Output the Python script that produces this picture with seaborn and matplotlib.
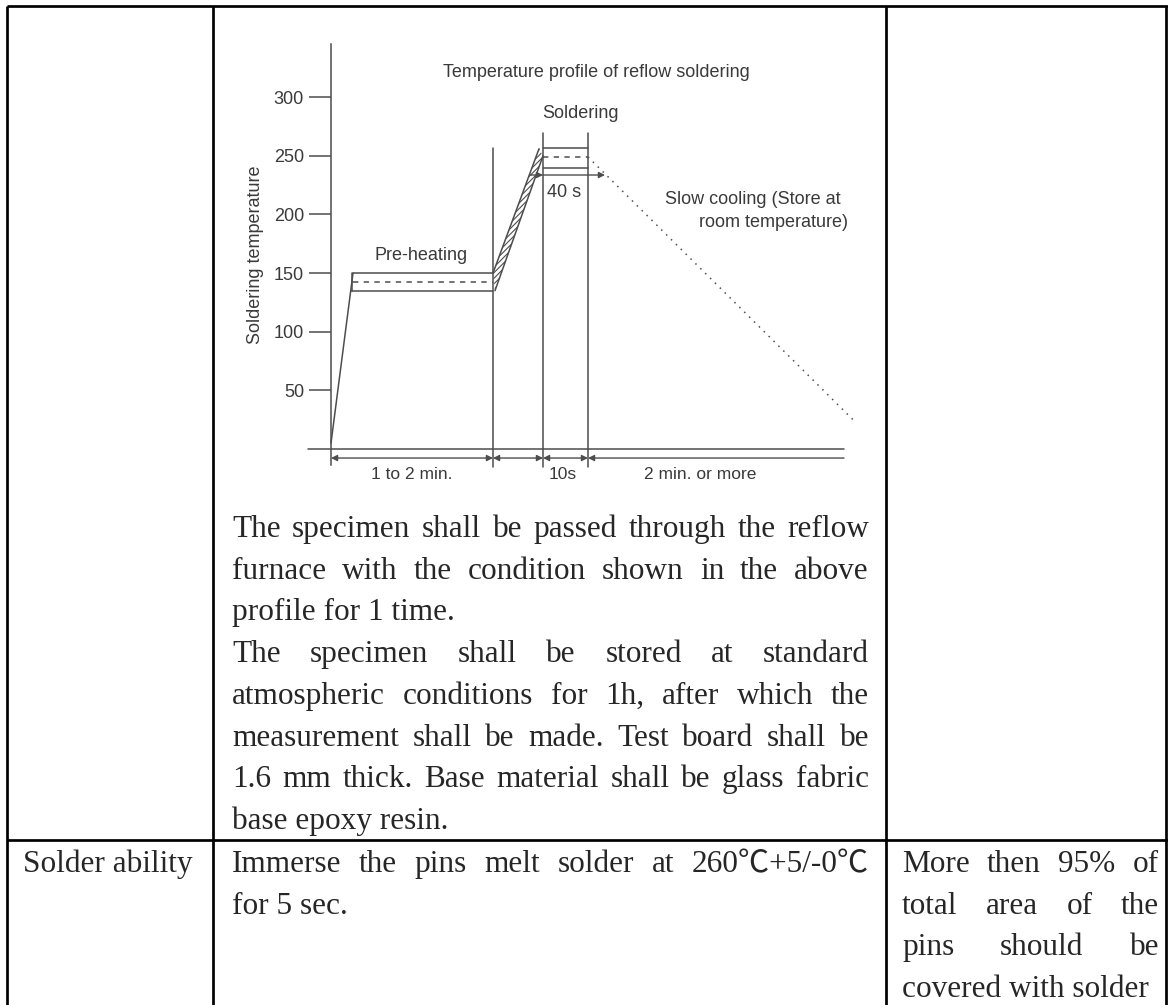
import numpy as np
import pandas as pd
import seaborn as sns
import matplotlib.pyplot as plt

# reflow profile: nominal time units (x) vs soldering temperature (deg C)
seg_names = ['ramp', 'pre_top', 'pre_bottom', 'pre_edge', 'pre_end', 'band_top', 'band_bottom',
             'sol_left', 'sol_right', 'sol_cap', 'sol_low', 'base',
             'pre_mid', 'sol_mid', 'cooling']
seg_kind = ['solid'] * 12 + ['dash', 'dash', 'dot']
seg_time = [[0, 22], [22, 162], [20, 162], [21, 21], [162, 162], [162, 208], [164, 212],
            [212, 212], [257, 257], [212, 257], [212, 257], [-23, 513],
            [22, 162], [212, 257], [257, 522]]
seg_temp = [[5, 150], [150, 150], [135, 135], [150, 135], [-15, 257], [150, 256], [135, 250],
            [-15, 269], [-15, 269], [257, 257], [240, 240], [0, 0],
            [142, 142], [249, 249], [249, 25]]

yticks = [50, 100, 150, 200, 250, 300]
phase_edges = [0, 162, 212, 257, 513]
phase_labels = ['1 to 2 min.', '', '10s', '2 min. or more']
phase_label_x = [81, 187, 232, 369]
peak_span = [199, 212, 257, 274]
dim_temp = -7.7
peak_temp = 233.6

# table text
col1_row2 = 'Solder ability'
col2_row1 = [('The specimen shall be passed through the reflow', True),
             ('furnace with the condition shown in the above', True),
             ('profile for 1 time.', False),
             ('The specimen shall be stored at standard', True),
             ('atmospheric conditions for 1h, after which the', True),
             ('measurement shall be made. Test board shall be', True),
             ('1.6 mm thick. Base material shall be glass fabric', True),
             ('base epoxy resin.', False)]
col2_row2 = [('Immerse the pins melt solder at 260\u2103+5/-0\u2103', True),
             ('for 5 sec.', False)]
col3_row2 = [('More then 95% of', True),
             ('total area of the', True),
             ('pins should be', True),
             ('covered with solder', False)]

rows = []
for name, kind, ts, vs in zip(seg_names, seg_kind, seg_time, seg_temp):
    for t, v in zip(ts, vs):
        rows.append({'seg': name, 'kind': kind, 'time': t, 'temp': v})
df = pd.DataFrame(rows)

sns.set_style('white')
plt.rcParams['font.family'] = ['Liberation Sans', 'DejaVu Sans']
plt.rcParams['hatch.linewidth'] = 0.8

fig = plt.figure(figsize=(11.68, 10.05), dpi=100)
fig.patch.set_facecolor('white')

# page / table layer in pixel coordinates
tab = fig.add_axes([0, 0, 1, 1])
tab.set_xlim(0, 1168)
tab.set_ylim(1005, 0)
tab.axis('off')
lw_tab = 1.95
tab.hlines([6], 7, 1168, color='black', lw=lw_tab)
tab.hlines([840], 7, 1168, color='black', lw=lw_tab)
tab.vlines([7, 213, 886, 1166], 6, 1005, color='black', lw=lw_tab)

serif = ['Liberation Serif', 'Noto Sans CJK SC', 'DejaVu Serif']
fs_tab = 22.5
renderer = fig.canvas.get_renderer()


def put_line(text, x0, x1, y, just):
    if not just:
        tab.text(x0, y, text, ha='left', va='baseline', family=serif, fontsize=fs_tab)
        return
    words = text.split(' ')
    arts = [tab.text(0, y, w, ha='left', va='baseline', family=serif, fontsize=fs_tab)
            for w in words]
    widths = [a.get_window_extent(renderer).width for a in arts]
    gap = (x1 - x0 - sum(widths)) / (len(words) - 1)
    x = x0
    for a, w in zip(arts, widths):
        a.set_x(x)
        x += w + gap


for i, (txt, j) in enumerate(col2_row1):
    put_line(txt, 232, 869, 537 + i * 41.7, j)
tab.text(23, 872, col1_row2, ha='left', va='baseline', family=serif, fontsize=fs_tab)
for i, (txt, j) in enumerate(col2_row2):
    put_line(txt, 232, 869, 872 + i * 41.7, j)
for i, (txt, j) in enumerate(col3_row2):
    put_line(txt, 902, 1159, 872 + i * 41.7, j)

# profile chart
ax = fig.add_axes([331 / 1168, 1 - 465 / 1005, 529 / 1168, 421 / 1005])
ax.patch.set_alpha(0)
col = '#4d4d4d'
tcol = '#3a3a3a'
sns.lineplot(data=df, x='time', y='temp', units='seg', style='kind', estimator=None,
             sort=False, legend=False, color=col, lw=1.1, ax=ax,
             dashes={'solid': '', 'dash': (3.5, 3.5), 'dot': (1, 3.5)})
for ln in ax.lines:
    ln.set_clip_on(False)

# hatched ramp band between pre-heating and peak
bt = seg_time[seg_names.index('band_top')]
bv = seg_temp[seg_names.index('band_top')]
bbt = seg_time[seg_names.index('band_bottom')]
bbv = seg_temp[seg_names.index('band_bottom')]
ax.fill(bt + bbt[::-1], bv + bbv[::-1], facecolor='none', edgecolor=col, hatch='//////',
        lw=0, clip_on=False)

ax.set_xlim(0, 529)
ax.set_ylim(-13.64, 345.3)
ax.set_xlabel('')
ax.set_ylabel('')
for s in ['top', 'right', 'bottom']:
    ax.spines[s].set_visible(False)
ax.spines['left'].set_color(col)
ax.spines['left'].set_linewidth(1.1)
ax.set_xticks([])
ax.set_yticks(yticks)
ax.tick_params(axis='y', direction='out', length=15.8, width=1.1, color=col,
               pad=3.6, labelsize=13, labelcolor=tcol, left=True)

# dimension arrows under the axis
arr = dict(color=col, lw=1.0, mutation_scale=9, shrinkA=0, shrinkB=0)
for k in range(len(phase_edges) - 1):
    style = '<|-|>' if k < len(phase_edges) - 2 else '<|-'
    ax.annotate('', xy=(phase_edges[k + 1], dim_temp), xytext=(phase_edges[k], dim_temp),
                arrowprops=dict(arrowstyle=style, **arr), annotation_clip=False)
    if phase_labels[k]:
        ax.text(phase_label_x[k], -22, phase_labels[k], ha='center', va='center',
                fontsize=12.5, color=tcol, clip_on=False)
ax.annotate('', xy=(peak_span[1], peak_temp), xytext=(peak_span[0], peak_temp),
            arrowprops=dict(arrowstyle='-|>', **arr), annotation_clip=False)
ax.annotate('', xy=(peak_span[3], peak_temp), xytext=(peak_span[1], peak_temp),
            arrowprops=dict(arrowstyle='-|>', **arr), annotation_clip=False)

ax.text(112, 321.4, 'Temperature profile of reflow soldering', ha='left', va='center',
        fontsize=13, color=tcol)
ax.text(211, 286.4, 'Soldering', ha='left', va='center', fontsize=13, color=tcol)
ax.text(44, 165.4, 'Pre-heating', ha='left', va='center', fontsize=13, color=tcol)
ax.text(216, 219, '40 s', ha='left', va='center', fontsize=13, color=tcol)
ax.text(334, 212.3, 'Slow cooling (Store at', ha='left', va='center', fontsize=13, color=tcol)
ax.text(368, 193.5, 'room temperature)', ha='left', va='center', fontsize=13, color=tcol)
ax.text(-76, 166, 'Soldering temperature', rotation=90, ha='center', va='center',
        fontsize=13, color=tcol, clip_on=False)

fig.savefig('out.png', dpi=100, facecolor='white')
